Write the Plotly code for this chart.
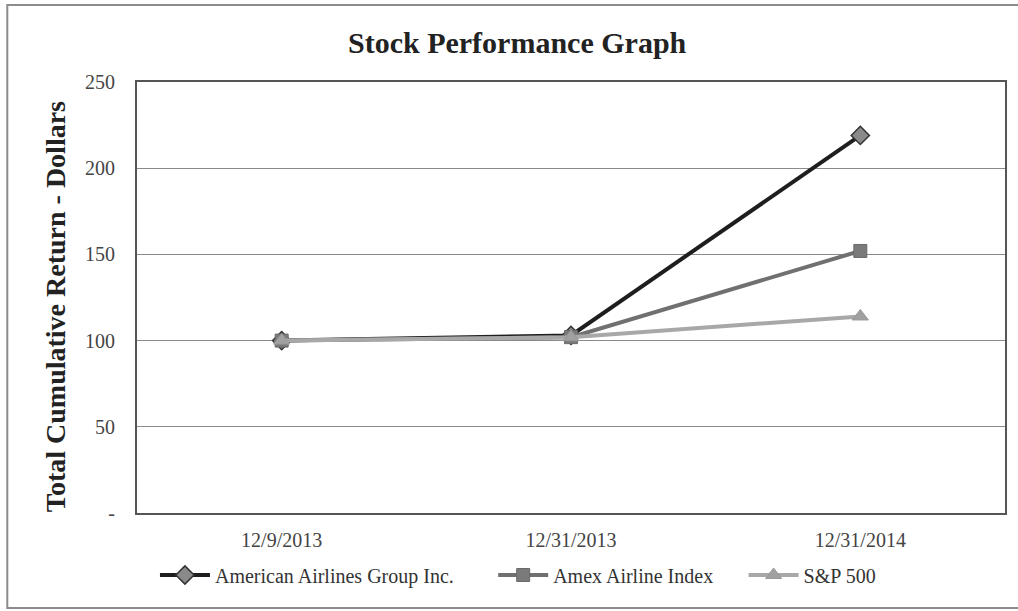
import plotly.graph_objects as go

dates = ["12/9/2013", "12/31/2013", "12/31/2014"]
aal = [100, 103, 219]
amex = [100, 102, 152]
sp500 = [100, 102, 114]
y_ticks = [0, 50, 100, 150, 200, 250]
y_tick_labels = ["-", "50", "100", "150", "200", "250"]

W, H = 1018, 611
L, R, T, B = 137, 1007, 82, 513

fig = go.Figure()
fig.add_trace(go.Scatter(
    x=dates, y=aal, name="American Airlines Group Inc.", mode="lines+markers", legend="legend",
    line=dict(color="#1e1e1e", width=4),
    marker=dict(symbol="diamond", size=14, color="#8a8a8a", line=dict(color="#333333", width=1.5)),
))
fig.add_trace(go.Scatter(
    x=dates, y=amex, name="Amex Airline Index", mode="lines+markers", legend="legend2",
    line=dict(color="#707070", width=4),
    marker=dict(symbol="square", size=13, color="#7a7a7a", line=dict(color="#6a6a6a", width=1)),
))
fig.add_trace(go.Scatter(
    x=dates, y=sp500, name="S&P 500", mode="lines+markers", legend="legend3",
    line=dict(color="#a8a8a8", width=4),
    marker=dict(symbol="triangle-up", size=14, color="#a0a0a0", line=dict(color="#999999", width=1)),
))

def px_x(p):
    return (p - L) / (R - L)

def px_y(p):
    return (B - p) / (B - T)

fig.add_shape(type="rect", xref="paper", yref="paper",
              x0=px_x(7), x1=px_x(1100), y0=px_y(5), y1=px_y(608),
              line=dict(color="#8c8c8c", width=2), layer="below")

fig.add_annotation(text="<b>Total Cumulative Return - Dollars</b>", textangle=-90,
                   xref="paper", yref="paper", x=px_x(55), y=px_y(307),
                   xanchor="center", yanchor="middle", showarrow=False,
                   font=dict(family="Liberation Serif", size=28, color="#222222"))

def legend_at(px_left):
    return dict(orientation="h", x=px_x(px_left), xanchor="left", y=px_y(575), yanchor="middle",
                font=dict(family="Liberation Serif", size=20, color="#333333"),
                itemwidth=50, bgcolor="rgba(0,0,0,0)")

fig.update_layout(
    width=W, height=H,
    margin=dict(l=L, r=W - R, t=T, b=H - B),
    paper_bgcolor="white", plot_bgcolor="white",
    font=dict(family="Liberation Serif", color="#444444", size=20),
    title=dict(text="<b>Stock Performance Graph</b>", x=px_x(518), xref="paper", xanchor="center",
               y=1 - 42 / H, yanchor="middle",
               font=dict(family="Liberation Serif", size=30, color="#222222")),
    showlegend=True,
    legend=legend_at(155),
    legend2=legend_at(494),
    legend3=legend_at(745),
    xaxis=dict(type="category", range=[-0.5, 2.5], showgrid=False, showline=True,
               linecolor="#555555", linewidth=2,
               mirror=True, ticks="", tickfont=dict(size=20, color="#444444"), ticklabelstandoff=8),
    yaxis=dict(range=[0, 250], tickvals=y_ticks, ticktext=y_tick_labels,
               showgrid=True, gridcolor="#8a8a8a", gridwidth=1.3,
               showline=True, linecolor="#555555", linewidth=2, mirror=True,
               ticks="", tickfont=dict(size=20, color="#444444"), ticklabelstandoff=16,
               zeroline=False),
)

fig.write_html("out.html")
